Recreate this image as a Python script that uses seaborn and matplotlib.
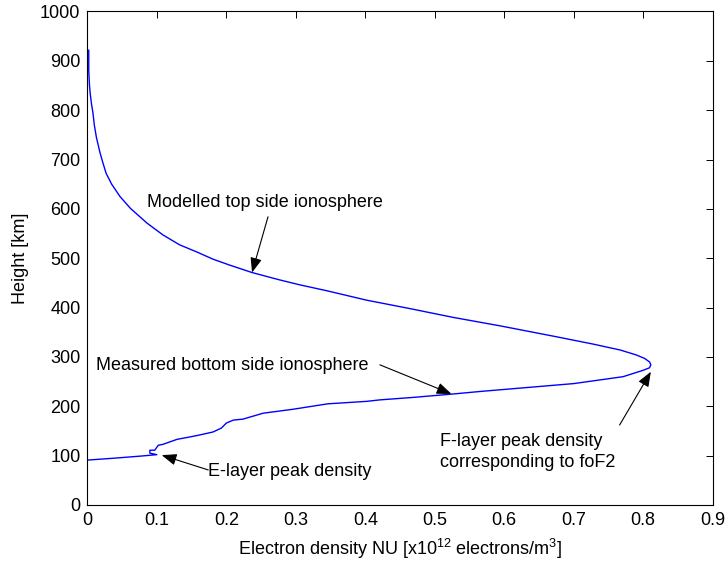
import numpy as np
import pandas as pd
import matplotlib
matplotlib.use("Agg")
import matplotlib.pyplot as plt
import seaborn as sns

# electron density profile (path from top, round the F peak, down to E layer)
dens_top = [0.002, 0.002, 0.003, 0.004, 0.006, 0.008, 0.010, 0.013, 0.018, 0.022, 0.027,
            0.035, 0.047, 0.062, 0.086, 0.109, 0.133, 0.157, 0.181, 0.205, 0.237, 0.277,
            0.306, 0.345, 0.402, 0.464, 0.527, 0.594, 0.671, 0.728, 0.767, 0.790, 0.802,
            0.809, 0.811]
h_top = [922, 880, 851, 835, 812, 795, 770, 745, 715, 695, 672,
         650, 625, 601, 571, 547, 527, 513, 498, 486, 471, 456,
         446, 434, 415, 398, 380, 363, 342, 326, 314, 304, 297,
         290, 284]

dens_bot = [0.809, 0.800, 0.771, 0.700, 0.565, 0.527, 0.469, 0.421, 0.402, 0.346,
            0.296, 0.253, 0.224, 0.210, 0.200, 0.193, 0.181, 0.162, 0.148, 0.129,
            0.119, 0.109, 0.102, 0.097, 0.090, 0.090, 0.100, 0.076, 0.040, 0.000]
h_bot = [278, 273, 260, 246, 230, 225, 218, 213, 210, 205,
         194, 186, 174, 172, 166, 156, 148, 142, 138, 133,
         128, 123, 121, 111, 111, 105, 102, 99, 95, 91]

x_ticks = [0, 0.1, 0.2, 0.3, 0.4, 0.5, 0.6, 0.7, 0.8, 0.9]
y_ticks = [0, 100, 200, 300, 400, 500, 600, 700, 800, 900, 1000]

df = pd.DataFrame({
    "density": dens_top + dens_bot,
    "height": h_top + h_bot,
})
df["order"] = np.arange(len(df))

sns.set_style("white")
plt.rcParams["font.family"] = ["Liberation Sans", "DejaVu Sans"]
plt.rcParams["mathtext.default"] = "regular"
plt.rcParams["text.color"] = "black"
plt.rcParams["axes.labelcolor"] = "black"

fig = plt.figure(figsize=(7.28, 5.65), dpi=100)
ax = fig.add_axes([0.12, 0.1062, 0.859, 0.8735])

sns.lineplot(data=df, x="density", y="height", sort=False, estimator=None,
             color="#0000ff", lw=1.0, ax=ax)

ax.set_xlim(0, 0.9)
ax.set_ylim(0, 1000)
ax.set_xticks(x_ticks)
ax.set_xticklabels(["0" if t == 0 else f"{t:g}" for t in x_ticks])
ax.set_yticks(y_ticks)
ax.tick_params(direction="in", top=True, right=True, length=5, width=0.7,
               labelsize=13, pad=5, colors="black")
for s in ax.spines.values():
    s.set_color("black")
    s.set_linewidth(0.8)

ax.set_xlabel("Electron density NU [x10$^{12}$ electrons/m$^3$]", fontsize=13, labelpad=6)
ax.set_ylabel("Height [km]", fontsize=13, labelpad=8)

# annotations
arrow = dict(arrowstyle="-|>,head_length=0.9,head_width=0.35", color="black",
             lw=0.8, shrinkA=0, shrinkB=0, mutation_scale=10)

ax.text(0.0855, 612, "Modelled top side ionosphere", fontsize=13, ha="left", va="center")
ax.annotate("", xy=(0.237, 471), xytext=(0.260, 584), arrowprops=arrow)

ax.text(0.0125, 282, "Measured bottom side ionosphere", fontsize=13, ha="left", va="center")
ax.annotate("", xy=(0.524, 225), xytext=(0.421, 284), arrowprops=arrow)

ax.text(0.508, 108, "F-layer peak density\ncorresponding to foF2", fontsize=13,
        ha="left", va="center", linespacing=1.3)
ax.annotate("", xy=(0.811, 270), xytext=(0.766, 162), arrowprops=arrow)

ax.text(0.174, 68, "E-layer peak density", fontsize=13, ha="left", va="center")
ax.annotate("", xy=(0.107, 101), xytext=(0.174, 71), arrowprops=arrow)

fig.savefig("out.png", dpi=100, facecolor="white")
